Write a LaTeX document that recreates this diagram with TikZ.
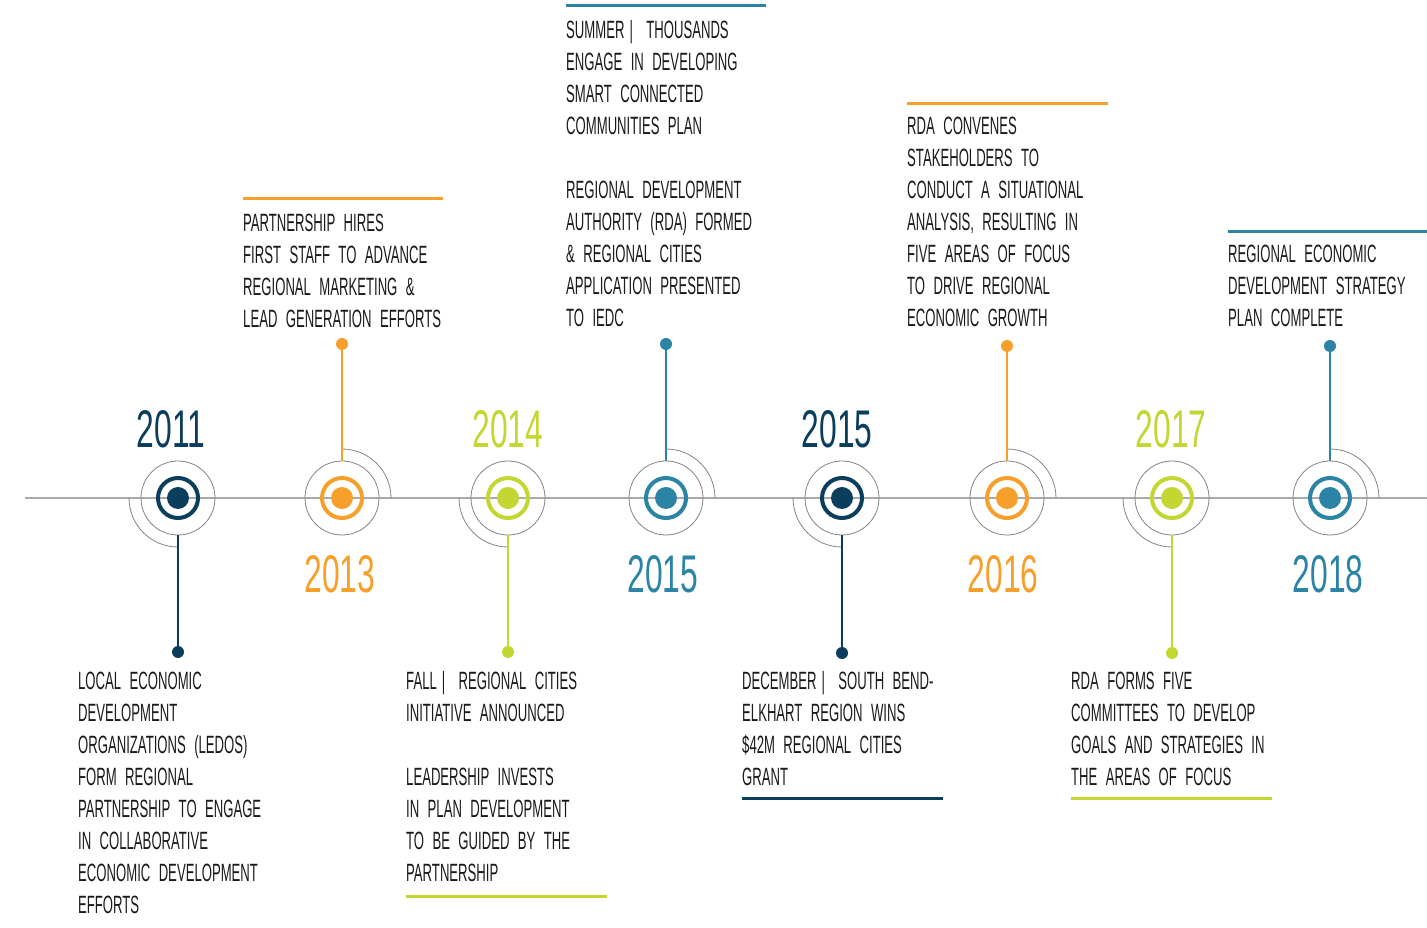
\documentclass[tikz,border=0pt]{standalone}
\usepackage{fontspec}
\setmainfont{Liberation Sans}
\newfontfamily\bodyfont[FakeStretch=0.525,WordSpace=2.3]{Liberation Sans}
\newfontfamily\yearfont[FakeStretch=0.6]{Liberation Sans}
\definecolor{navy}{HTML}{0B3D5C}
\definecolor{orng}{HTML}{F6A02B}
\definecolor{lime}{HTML}{C4D631}
\definecolor{teal}{HTML}{2B84A5}
\definecolor{axisgray}{HTML}{AAAAAA}
\definecolor{ringgray}{HTML}{858585}
\definecolor{txtcol}{HTML}{1A1A1A}
\newcommand\tline[1]{\hbox{#1}}
\newcommand\tblock[1]{\vtop{\baselineskip=32pt #1}}
\newcommand\vbar{\kern5pt|\kern5pt}
\begin{document}
\begin{tikzpicture}[x=1pt,y=1pt,
  axisline/.style={draw=axisgray, line width=1.6pt},
  outerring/.style={circle, draw=ringgray, line width=0.8pt, minimum size=74pt, inner sep=0pt},
  arcline/.style={draw=ringgray, line width=0.8pt},
  enddot/.style={circle, minimum size=12pt, inner sep=0pt},
  conn/.style={line width=1.3pt},
  yearlbl/.style={font=\yearfont\fontsize{53}{53}\selectfont, inner sep=0pt, anchor=base},
  txt/.style={font=\bodyfont\fontsize{25}{32}\selectfont, text=txtcol, inner sep=0pt, anchor=base west},
  rulebar/.style={line width=3pt}
]
\useasboundingbox (0,0) rectangle (1427,927);
\fill[white] (0,0) rectangle (1427,927);

% axis
\coordinate (axL) at (25,429);
\coordinate (axR) at (1427,429);
\draw[axisline] (axL) -- (axR);

% milestones
\foreach \n/\x/\c/\dy/\a/\b in {
  1/178/navy/275/180/270,
  2/342/orng/583/90/0,
  3/508/lime/275/180/270,
  4/666/teal/583/90/0,
  5/842/navy/274/180/270,
  6/1007/orng/581/90/0,
  7/1172/lime/274/180/270,
  8/1330/teal/581/90/0}{
  \coordinate (c\n) at (\x,429);
  \node[outerring] (o\n) at (c\n) {};
  \draw[\c, line width=4pt] (c\n) circle[radius=20pt];
  \fill[\c] (c\n) circle[radius=11pt];
  \draw[arcline] (c\n) ++(\a:49pt) arc[start angle=\a, end angle=\b, radius=49pt];
  \node[enddot, fill=\c] (d\n) at (\x,\dy) {};
  \draw[\c, conn] (o\n) -- (d\n);
}

% years
\node[yearlbl, text=navy] (y1) at (171,479) {2011};
\node[yearlbl, text=orng] (y2) at (340,334) {2013};
\node[yearlbl, text=lime] (y3) at (508,479) {2014};
\node[yearlbl, text=teal] (y4) at (663,334) {2015};
\node[yearlbl, text=navy] (y5) at (837,479) {2015};
\node[yearlbl, text=orng] (y6) at (1003,334) {2016};
\node[yearlbl, text=lime] (y7) at (1171,479) {2017};
\node[yearlbl, text=teal] (y8) at (1328,334) {2018};

% top text blocks
\coordinate (r2a) at (243,728); \coordinate (r2b) at (443,728);
\draw[orng, rulebar] (r2a) -- (r2b);
\node[txt] (t2) at (243,695) {\tblock{%
  \tline{PARTNERSHIP HIRES}
  \tline{FIRST STAFF TO ADVANCE}
  \tline{REGIONAL MARKETING \&}
  \tline{LEAD GENERATION EFFORTS}}};

\coordinate (r4a) at (566,921); \coordinate (r4b) at (766,921);
\draw[teal, rulebar] (r4a) -- (r4b);
\node[txt] (t4) at (566,888) {\tblock{%
  \tline{SUMMER\vbar{} THOUSANDS}
  \tline{ENGAGE IN DEVELOPING}
  \tline{SMART CONNECTED}
  \tline{COMMUNITIES PLAN}
  \tline{}
  \tline{REGIONAL DEVELOPMENT}
  \tline{AUTHORITY (RDA) FORMED}
  \tline{\& REGIONAL CITIES}
  \tline{APPLICATION PRESENTED}
  \tline{TO IEDC}}};

\coordinate (r6a) at (907,823); \coordinate (r6b) at (1108,823);
\draw[orng, rulebar] (r6a) -- (r6b);
\node[txt] (t6) at (907,792) {\tblock{%
  \tline{RDA CONVENES}
  \tline{STAKEHOLDERS TO}
  \tline{CONDUCT A SITUATIONAL}
  \tline{ANALYSIS, RESULTING IN}
  \tline{FIVE AREAS OF FOCUS}
  \tline{TO DRIVE REGIONAL}
  \tline{ECONOMIC GROWTH}}};

\coordinate (r8a) at (1228,695); \coordinate (r8b) at (1427,695);
\draw[teal, rulebar] (r8a) -- (r8b);
\node[txt] (t8) at (1228,664) {\tblock{%
  \tline{REGIONAL ECONOMIC}
  \tline{DEVELOPMENT STRATEGY}
  \tline{PLAN COMPLETE}}};

% bottom text blocks
\node[txt] (t1) at (78,237) {\tblock{%
  \tline{LOCAL ECONOMIC}
  \tline{DEVELOPMENT}
  \tline{ORGANIZATIONS (LEDOS)}
  \tline{FORM REGIONAL}
  \tline{PARTNERSHIP TO ENGAGE}
  \tline{IN COLLABORATIVE}
  \tline{ECONOMIC DEVELOPMENT}
  \tline{EFFORTS}}};

\node[txt] (t3) at (406,237) {\tblock{%
  \tline{FALL\vbar{} REGIONAL CITIES}
  \tline{INITIATIVE ANNOUNCED}
  \tline{}
  \tline{LEADERSHIP INVESTS}
  \tline{IN PLAN DEVELOPMENT}
  \tline{TO BE GUIDED BY THE}
  \tline{PARTNERSHIP}}};
\coordinate (r3a) at (406,31); \coordinate (r3b) at (607,31);
\draw[lime, rulebar] (r3a) -- (r3b);

\node[txt] (t5) at (742,237) {\tblock{%
  \tline{DECEMBER\vbar{} SOUTH BEND-}
  \tline{ELKHART REGION WINS}
  \tline{\$42M REGIONAL CITIES}
  \tline{GRANT}}};
\coordinate (r5a) at (742,129); \coordinate (r5b) at (943,129);
\draw[navy, rulebar] (r5a) -- (r5b);

\node[txt] (t7) at (1071,237) {\tblock{%
  \tline{RDA FORMS FIVE}
  \tline{COMMITTEES TO DEVELOP}
  \tline{GOALS AND STRATEGIES IN}
  \tline{THE AREAS OF FOCUS}}};
\coordinate (r7a) at (1071,129); \coordinate (r7b) at (1272,129);
\draw[lime, rulebar] (r7a) -- (r7b);
\end{tikzpicture}
\end{document}
